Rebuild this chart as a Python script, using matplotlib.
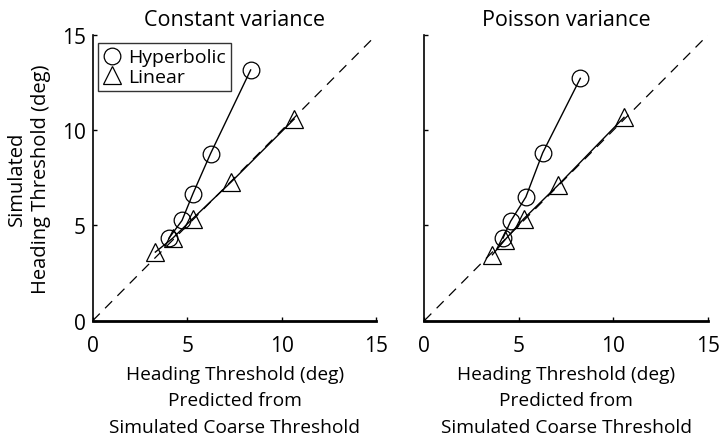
import numpy as np
import matplotlib
matplotlib.use("Agg")
from matplotlib import pyplot as plt
from matplotlib.lines import Line2D

plt.rcParams['font.family'] = ['Open Sans', 'DejaVu Sans']
plt.rcParams['font.size'] = 14

# data
titles = ["Constant variance", "Poisson variance"]

# constant variance
hyp_x_const = [4.03, 4.72, 5.30, 6.23, 8.35]
hyp_y_const = [4.33, 5.26, 6.67, 8.77, 13.16]
lin_x_const = [3.31, 4.23, 5.28, 7.32, 10.65]
lin_y_const = [3.60, 4.33, 5.35, 7.28, 10.58]

# poisson variance
hyp_x_pois = [4.16, 4.56, 5.37, 6.26, 8.25]
hyp_y_pois = [4.33, 5.21, 6.49, 8.81, 12.72]
lin_x_pois = [3.60, 4.28, 5.26, 7.07, 10.56]
lin_y_pois = [3.46, 4.26, 5.35, 7.11, 10.67]

ticks = [0, 5, 10, 15]
unity = [0, 15]

fig = plt.figure(figsize=(7.2, 4.35), dpi=100)
ax1 = fig.add_axes([0.1288, 0.2605, 0.394, 0.657])
ax2 = fig.add_axes([0.5893, 0.2605, 0.394, 0.657])

datasets = [(hyp_x_const, hyp_y_const, lin_x_const, lin_y_const),
            (hyp_x_pois, hyp_y_pois, lin_x_pois, lin_y_pois)]

for ax, title, (hx, hy, lx, ly) in zip([ax1, ax2], titles, datasets):
    ax.plot(unity, unity, color='k', ls=(0, (8, 6)), lw=0.9)
    ax.plot(hx, hy, color='k', lw=1.0, marker='o', ms=12,
            mfc='none', mec='k', mew=0.9)
    ax.plot(lx, ly, color='k', lw=1.0, marker='^', ms=13,
            mfc='none', mec='k', mew=0.9)
    ax.set_xlim(0, 15)
    ax.set_ylim(0, 15)
    ax.set_xticks(ticks)
    ax.set_yticks(ticks)
    ax.spines['top'].set_visible(False)
    ax.spines['right'].set_visible(False)
    ax.spines['left'].set_linewidth(1.2)
    ax.spines['bottom'].set_linewidth(2.0)
    ax.tick_params(direction='in', length=3, width=1, labelsize=15)
    ax.tick_params(axis='x', pad=10)
    ax.tick_params(axis='y', pad=5)
    ax.set_title(title, fontsize=15.5, pad=7)
    ax.set_xlabel("Heading Threshold (deg)\nPredicted from\nSimulated Coarse Threshold",
                  fontsize=13.8, linespacing=1.58, labelpad=7)

ax2.set_yticklabels([])
ax1.set_ylabel("Simulated\nHeading Threshold (deg)", fontsize=14.5,
               linespacing=1.25, labelpad=8)

handles = [Line2D([], [], ls='none', marker='o', ms=12, mfc='none', mec='k', mew=0.9),
           Line2D([], [], ls='none', marker='^', ms=13, mfc='none', mec='k', mew=0.9)]
leg = ax1.legend(handles, ["Hyperbolic", "Linear"], loc='upper left',
                 bbox_to_anchor=(0.02, 0.97), fontsize=14, frameon=True,
                 fancybox=False, handlelength=0.9, handletextpad=0.4,
                 borderpad=0.25, labelspacing=0.1, borderaxespad=0)
leg.get_frame().set_edgecolor('k')
leg.get_frame().set_linewidth(1.0)

fig.savefig("out.png", dpi=100)
